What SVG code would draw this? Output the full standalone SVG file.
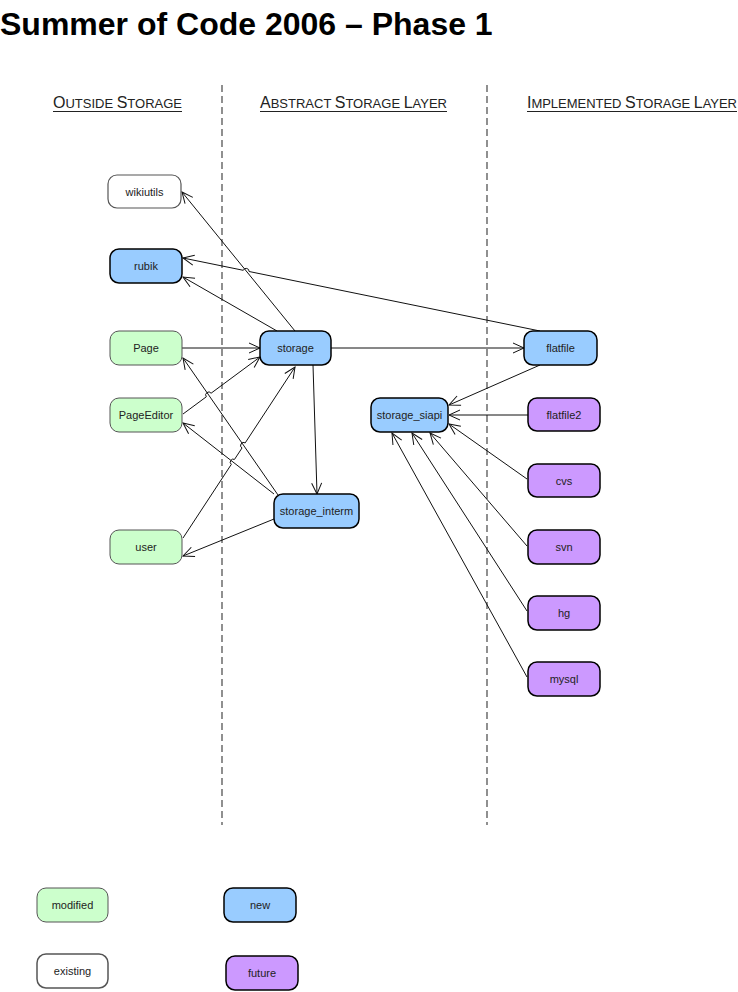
<svg xmlns="http://www.w3.org/2000/svg" width="738" height="992" viewBox="0 0 738 992">
<style>
text{font-family:"Liberation Sans",Arial,sans-serif;fill:#222}
.lbl{font-size:11px;text-anchor:middle}
.hdr{font-size:13px}
.big{font-size:16px}
.blue{fill:#99ccff;stroke:#000;stroke-width:1.5}
.purple{fill:#cc99ff;stroke:#000;stroke-width:1.5}
.green{fill:#ccffcc;stroke:#555;stroke-width:1}
.white{fill:#fff;stroke:#555;stroke-width:1.2}
.dash{stroke:#555;stroke-width:1.3;stroke-dasharray:7,4;fill:none}
.c{fill:none;stroke:#111;stroke-width:1;marker-end:url(#a)}
.ul{stroke:#222;stroke-width:1}
</style>
<defs>
<marker id="a" viewBox="-12 -6 13 12" markerWidth="13" markerHeight="12" refX="0" refY="0" orient="auto" markerUnits="userSpaceOnUse">
<path d="M-11,-5 L0,0 L-11,5" fill="none" stroke="#111" stroke-width="1"/>
</marker>
</defs>
<rect width="738" height="992" fill="#fff"/>
<text x="0" y="35" style="font-size:32px;font-weight:bold;fill:#000">Summer of Code 2006 – Phase 1</text>

<g id="headers">
<text x="53" y="108" class="hdr" textLength="129" lengthAdjust="spacing"><tspan class="big">O</tspan>UTSIDE <tspan class="big">S</tspan>TORAGE</text>
<line class="ul" x1="53" y1="111.5" x2="182" y2="111.5"/>
<text x="260" y="108" class="hdr" textLength="187" lengthAdjust="spacing"><tspan class="big">A</tspan>BSTRACT <tspan class="big">S</tspan>TORAGE <tspan class="big">L</tspan>AYER</text>
<line class="ul" x1="260" y1="111.5" x2="447" y2="111.5"/>
<text x="527" y="108" class="hdr" textLength="210" lengthAdjust="spacing"><tspan class="big">I</tspan>MPLEMENTED <tspan class="big">S</tspan>TORAGE <tspan class="big">L</tspan>AYER</text>
<line class="ul" x1="527" y1="111.5" x2="737" y2="111.5"/>
</g>

<g id="dividers">
<line class="dash" x1="222" y1="85" x2="222" y2="825"/>
<line class="dash" x1="487" y1="85" x2="487" y2="825"/>
</g>

<g id="connectors">
<path class="c" d="M295,331 L182,192"/>
<path class="c" d="M277,331 L183,277"/>
<path class="c" d="M540,331 L249.1,271.5 A3,3 0 0 0 243.3,270.3 L183,258"/>
<path class="c" d="M182,348 L260,348"/>
<path class="c" d="M183,414 L206.3,396.8 A3,3 0 0 1 211.1,393.2 L260,357"/>
<path class="c" d="M183,538 L231.3,464.4 A3,3 0 0 1 234.5,459.4 L242,448 A3,3 0 0 1 245.2,442.9 L295,367"/>
<path class="c" d="M278,495 L183,358"/>
<path class="c" d="M274,494 L183,423"/>
<path class="c" d="M274,519 L183,556"/>
<path class="c" d="M313,365 L317,494"/>
<path class="c" d="M331,348 L524,348"/>
<path class="c" d="M540,365 L449,405"/>
<path class="c" d="M528,415 L449,415"/>
<path class="c" d="M527,479 L449,424"/>
<path class="c" d="M527,546 L430,433"/>
<path class="c" d="M527,611 L412,433"/>
<path class="c" d="M527,677 L392,433"/>
</g>

<g id="wikiutils"><rect class="white" x="108" y="175" width="73" height="33" rx="9"/><text class="lbl" x="144.5" y="195.5">wikiutils</text></g>
<g id="rubik"><rect class="blue" x="110" y="249" width="72" height="34" rx="9"/><text class="lbl" x="146" y="270">rubik</text></g>
<g id="Page"><rect class="green" x="110" y="331" width="72" height="34" rx="9"/><text class="lbl" x="146" y="352">Page</text></g>
<g id="PageEditor"><rect class="green" x="110" y="398" width="72" height="34" rx="9"/><text class="lbl" x="146" y="419">PageEditor</text></g>
<g id="user"><rect class="green" x="110" y="530" width="72" height="34" rx="9"/><text class="lbl" x="146" y="551">user</text></g>
<g id="storage"><rect class="blue" x="260" y="331" width="71" height="34" rx="9"/><text class="lbl" x="295.5" y="352">storage</text></g>
<g id="storage_interm"><rect class="blue" x="274" y="494" width="85" height="34" rx="9"/><text class="lbl" x="316.5" y="515">storage_interm</text></g>
<g id="storage_siapi"><rect class="blue" x="371" y="398" width="77" height="34" rx="9"/><text class="lbl" x="409.5" y="419">storage_siapi</text></g>
<g id="flatfile"><rect class="blue" x="524" y="331" width="73" height="34" rx="9"/><text class="lbl" x="560.5" y="352">flatfile</text></g>
<g id="flatfile2"><rect class="purple" x="528" y="398" width="72" height="33" rx="9"/><text class="lbl" x="564" y="418.5">flatfile2</text></g>
<g id="cvs"><rect class="purple" x="528" y="464" width="72" height="33" rx="9"/><text class="lbl" x="564" y="484.5">cvs</text></g>
<g id="svn"><rect class="purple" x="528" y="530" width="72" height="34" rx="9"/><text class="lbl" x="564" y="551">svn</text></g>
<g id="hg"><rect class="purple" x="528" y="596" width="72" height="34" rx="9"/><text class="lbl" x="564" y="617">hg</text></g>
<g id="mysql"><rect class="purple" x="528" y="662" width="72" height="34" rx="9"/><text class="lbl" x="564" y="683">mysql</text></g>

<g id="legend-modified"><rect class="green" x="37" y="888" width="71" height="34" rx="9"/><text class="lbl" x="72.5" y="909">modified</text></g>
<g id="legend-existing"><rect class="white" x="37" y="954" width="71" height="34" rx="9" style="stroke-width:1.5"/><text class="lbl" x="72.5" y="975">existing</text></g>
<g id="legend-new"><rect class="blue" x="224" y="888" width="72" height="34" rx="9"/><text class="lbl" x="260" y="909">new</text></g>
<g id="legend-future"><rect class="purple" x="226" y="956" width="72" height="34" rx="9"/><text class="lbl" x="262" y="977">future</text></g>
</svg>
